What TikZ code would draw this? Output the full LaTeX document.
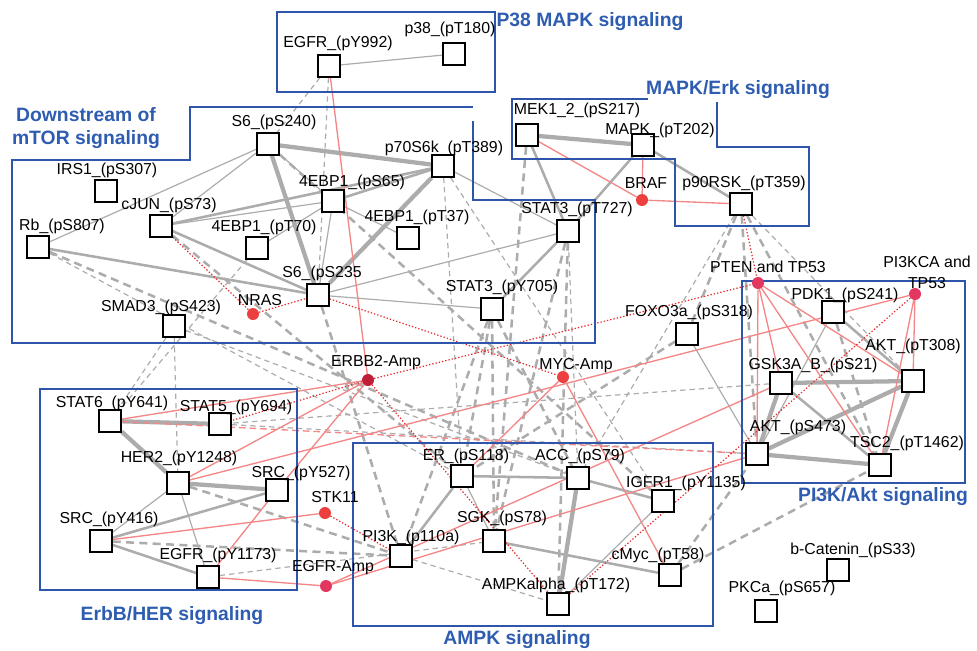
\documentclass[tikz,border=0pt]{standalone}
\usepackage{fontspec}
\setmainfont{Liberation Sans}
\definecolor{boxblue}{RGB}{47,85,170}
\definecolor{titleblue}{RGB}{46,92,176}
\definecolor{edgegray}{RGB}{172,172,172}
\definecolor{linkred}{RGB}{243,134,134}
\definecolor{dotred}{RGB}{232,40,40}
\definecolor{hitred}{RGB}{236,64,64}
\definecolor{amppink}{RGB}{226,56,96}
\definecolor{erbbred}{RGB}{190,30,55}
\usetikzlibrary{backgrounds}

\begin{document}
\begin{tikzpicture}[
            x=0.75pt, y=-0.75pt,
            prot/.style={rectangle, draw=black, fill=white, line width=1.1pt,
                         minimum size=16.5pt, inner sep=0pt},
            hit/.style={circle, fill=hitred, minimum size=9pt, inner sep=0pt},
            lbl/.style={font=\fontsize{11.9}{15.5}\selectfont, inner sep=0pt, align=center},
            grp/.style={draw=boxblue, line width=1.1pt},
            grptitle/.style={font=\fontsize{14.5}{17.5}\selectfont\bfseries, text=titleblue,
                             inner sep=0pt, align=center},
            ge/.style={draw=edgegray, line width=0.9pt},
            gm/.style={draw=edgegray, line width=1.9pt},
            gt/.style={draw=edgegray, line width=3.2pt},
            gdt/.style={draw=edgegray, line width=0.9pt, dash pattern=on 4pt off 3pt},
            gdm/.style={draw=edgegray, line width=1.9pt, dash pattern=on 6pt off 4pt},
            rs/.style={draw=linkred, line width=1pt},
            rdash/.style={draw=linkred, line width=1pt, dash pattern=on 5pt off 3pt},
            rd/.style={draw=dotred, line width=0.9pt, dash pattern=on 1pt off 1.5pt}
        ]
        \useasboundingbox (0,0) rectangle (977,650);

        % signaling groups
        \draw[grp] (277,12) rectangle (495,92);
        \draw[grp] (473,121) -- (473,200) -- (595,200) -- (595,343) -- (12,343) -- (12,160)
                   -- (190,160) -- (190,107) -- (473,107);
        \draw[grp] (648,99) -- (512,99) -- (512,159) -- (675,159) -- (675,226) -- (809,226)
                   -- (809,147) -- (717,147) -- (717,102);
        \draw[grp] (40,389) rectangle (297,590);
        \draw[grp] (353,443) rectangle (713,626);
        \draw[grp] (742,281) rectangle (965,483);

        \node[grptitle] (t-p38) at (590,22) {P38 MAPK signaling};
        \node[grptitle] (t-erk) at (738,90) {MAPK/Erk signaling};
        \node[grptitle] (t-mtor) at (86,128) {Downstream of\\mTOR signaling};
        \node[grptitle] (t-erbb) at (172,616) {ErbB/HER signaling};
        \node[grptitle] (t-ampk) at (517,640) {AMPK signaling};
        \node[grptitle] (t-akt) at (883,497) {PI3K/Akt signaling};

        % proteins
        \node[prot] (egfrY992) at (329,66) {};
        \node[lbl] (egfrY992-t) at (338,43) {EGFR\_(pY992)};
        \node[prot] (p38) at (454,54) {};
        \node[lbl] (p38-t) at (450,29) {p38\_(pT180)};
        \node[prot] (s6S240) at (268,144) {};
        \node[lbl] (s6S240-t) at (274,122) {S6\_(pS240)};
        \node[prot] (p70) at (443,166) {};
        \node[lbl] (p70-t) at (444,148) {p70S6k\_(pT389)};
        \node[prot] (ebpS65) at (333,201) {};
        \node[lbl] (ebpS65-t) at (352,182) {4EBP1\_(pS65)};
        \node[prot] (ebpT37) at (408,238) {};
        \node[lbl] (ebpT37-t) at (417,217) {4EBP1\_(pT37)};
        \node[prot] (ebpT70) at (257,248) {};
        \node[lbl] (ebpT70-t) at (264,227) {4EBP1\_(pT70)};
        \node[prot] (cjun) at (161,226) {};
        \node[lbl] (cjun-t) at (169,205) {cJUN\_(pS73)};
        \node[prot] (irs1) at (106,191) {};
        \node[lbl] (irs1-t) at (107,170) {IRS1\_(pS307)};
        \node[prot] (rb) at (38,247) {};
        \node[lbl] (rb-t) at (62,226) {Rb\_(pS807)};
        \node[prot] (smad3) at (174,326) {};
        \node[lbl] (smad3-t) at (161,307) {SMAD3\_(pS423)};
        \node[prot] (s6S235) at (318,295) {};
        \node[lbl] (s6S235-t) at (322,273) {S6\_(pS235};
        \node[prot] (stat3Y705) at (492,309) {};
        \node[lbl] (stat3Y705-t) at (502,287) {STAT3\_(pY705)};
        \node[prot] (stat3T727) at (568,231) {};
        \node[lbl] (stat3T727-t) at (577,209) {STAT3\_(pT727)};
        \node[prot] (mek) at (527,135) {};
        \node[lbl] (mek-t) at (577,110) {MEK1\_2\_(pS217)};
        \node[prot] (mapk) at (643,145) {};
        \node[lbl] (mapk-t) at (660,130) {MAPK\_(pT202)};
        \node[prot] (p90rsk) at (741,204) {};
        \node[lbl] (p90rsk-t) at (744,183) {p90RSK\_(pT359)};
        \node[prot] (pdk1) at (833,312) {};
        \node[lbl] (pdk1-t) at (845,295) {PDK1\_(pS241)};
        \node[prot] (foxo3a) at (687,334) {};
        \node[lbl] (foxo3a-t) at (689,312) {FOXO3a\_(pS318)};
        \node[prot] (aktT308) at (913,381) {};
        \node[lbl] (aktT308-t) at (913,346) {AKT\_(pT308)};
        \node[prot] (gsk) at (781,383) {};
        \node[lbl] (gsk-t) at (813,365) {GSK3A\_B\_(pS21)};
        \node[prot] (aktS473) at (757,454) {};
        \node[lbl] (aktS473-t) at (798,427) {AKT\_(pS473)};
        \node[prot] (tsc2) at (880,465) {};
        \node[lbl] (tsc2-t) at (907,443) {TSC2\_(pT1462)};
        \node[prot] (stat6) at (110,421) {};
        \node[lbl] (stat6-t) at (112,403) {STAT6\_(pY641)};
        \node[prot] (stat5) at (220,424) {};
        \node[lbl] (stat5-t) at (236,407) {STAT5\_(pY694)};
        \node[prot] (her2) at (178,483) {};
        \node[lbl] (her2-t) at (179,458) {HER2\_(pY1248)};
        \node[prot] (srcY527) at (277,490) {};
        \node[lbl] (srcY527-t) at (301,473) {SRC\_(pY527)};
        \node[prot] (srcY416) at (101,541) {};
        \node[lbl] (srcY416-t) at (109,519) {SRC\_(pY416)};
        \node[prot] (egfrY1173) at (208,577) {};
        \node[lbl] (egfrY1173-t) at (218,555) {EGFR\_(pY1173)};
        \node[prot] (er) at (462,476) {};
        \node[lbl] (er-t) at (466,456) {ER\_(pS118)};
        \node[prot] (acc) at (578,478) {};
        \node[lbl] (acc-t) at (580,456) {ACC\_(pS79)};
        \node[prot] (sgk) at (494,541) {};
        \node[lbl] (sgk-t) at (502,518) {SGK\_(pS78)};
        \node[prot] (pi3k) at (401,556) {};
        \node[lbl] (pi3k-t) at (411,537) {PI3K\_(p110a)};
        \node[prot] (ampk) at (558,604) {};
        \node[lbl] (ampk-t) at (556,585) {AMPKalpha\_(pT172)};
        \node[prot] (igfr1) at (663,501) {};
        \node[lbl] (igfr1-t) at (686,483) {IGFR1\_(pY1135)};
        \node[prot] (cmyc) at (670,575) {};
        \node[lbl] (cmyc-t) at (658,555) {cMyc\_(pT58)};
        \node[prot] (bcat) at (838,570) {};
        \node[lbl] (bcat-t) at (853,550) {b-Catenin\_(pS33)};
        \node[prot] (pkca) at (766,611) {};
        \node[lbl] (pkca-t) at (782,588) {PKCa\_(pS657)};

        % alterations
        \node[hit] (nras) at (253,314) {};
        \node[lbl] (nras-t) at (260,300) {NRAS};
        \node[hit] (braf) at (642,200) {};
        \node[lbl] (braf-t) at (646,183) {BRAF};
        \node[hit] (stk11) at (325,513) {};
        \node[lbl] (stk11-t) at (335,497) {STK11};
        \node[hit] (myc) at (563,377) {};
        \node[lbl] (myc-t) at (576,366) {MYC-Amp};
        \node[hit, fill=erbbred] (erbb2) at (368,380) {};
        \node[lbl] (erbb2-t) at (376,363) {ERBB2-Amp};
        \node[hit, fill=amppink] (egframp) at (326,586) {};
        \node[lbl] (egframp-t) at (333,568) {EGFR-Amp};
        \node[hit, fill=amppink] (pten) at (758,283) {};
        \node[lbl] (pten-t) at (768,267) {PTEN and TP53};
        \node[hit, fill=amppink] (pi3kca) at (915,294) {};
        \node[lbl] (pi3kca-t) at (927,272) {PI3KCA and\\TP53};

        \begin{scope}[on background layer]
        % gray thin
        \draw[ge] (egfrY992) -- (p38);
        \draw[ge] (s6S240) -- (ebpS65);
        \draw[ge] (s6S240) -- (cjun);
        \draw[ge] (s6S240) -- (rb);
        \draw[ge] (cjun) -- (ebpS65);
        \draw[ge] (ebpT70) -- (ebpS65);
        \draw[ge] (ebpS65) -- (ebpT37);
        \draw[ge] (ebpS65) -- (s6S235);
        \draw[ge] (p70) -- (stat3T727);
        \draw[ge] (s6S235) -- (stat3T727);
        \draw[ge] (s6S235) -- (stat3Y705);
        \draw[ge] (her2) -- (srcY416);
        \draw[ge] (her2) -- (egfrY1173);
        \draw[ge] (er) -- (sgk);
        \draw[ge] (igfr1) -- (ampk);
        \draw[ge] (foxo3a) -- (aktS473);
        \draw[ge] (pdk1) -- (aktS473);
        % gray medium
        \draw[gm] (cjun) -- (p70);
        \draw[gm] (cjun) -- (s6S235);
        \draw[gm] (rb) -- (s6S235);
        \draw[gm] (ebpS65) -- (p70);
        \draw[gm] (stat3T727) -- (stat3Y705);
        \draw[gm] (mek) -- (stat3T727);
        \draw[gm] (mapk) -- (stat3T727);
        \draw[gm] (mapk) -- (p90rsk);
        \draw[gm] (srcY416) -- (srcY527);
        \draw[gm] (srcY416) -- (egfrY1173);
        \draw[gm] (pi3k) -- (er);
        \draw[gm] (er) -- (acc);
        \draw[gm] (acc) -- (igfr1);
        \draw[gm] (sgk) -- (cmyc);
        \draw[gm] (pdk1) -- (aktT308);
        \draw[gm] (gsk) -- (tsc2);
        % gray thick
        \draw[gt] (s6S240) -- (p70);
        \draw[gt] (s6S240) -- (s6S235);
        \draw[gt] (p70) -- (s6S235);
        \draw[gt] (mek) -- (mapk);
        \draw[gt] (stat6) -- (stat5);
        \draw[gt] (stat6) -- (her2);
        \draw[gt] (her2) -- (srcY527);
        \draw[gt] (acc) -- (ampk);
        \draw[gt] (gsk) -- (aktT308);
        \draw[gt] (gsk) -- (aktS473);
        \draw[gt] (aktS473) -- (aktT308);
        \draw[gt] (aktS473) -- (tsc2);
        \draw[gt] (aktT308) -- (tsc2);
        % gray dashed thin
        \draw[gdt] (egfrY992) -- (s6S240);
        \draw[gdt] (egfrY992) -- (s6S235);
        \draw[gdt] (rb) -- (er);
        \draw[gdt] (smad3) -- (acc);
        \draw[gdt] (smad3) -- (her2);
        \draw[gdt] (smad3) -- (stat6);
        \draw[gdt] (ebpT70) -- (stat6);
        \draw[gdt] (gsk) -- (stat5);
        \draw[gdt] (stat5) -- (aktS473);
        \draw[gdt] (egfrY1173) -- (sgk);
        \draw[gdt] (pi3k) -- (ampk);
        \draw[gdt] (stat3T727) -- (acc);
        \draw[gdt] (p70) -- (er);
        \draw[gdt] (p70) -- (igfr1);
        \draw[gdt] (p90rsk) -- (aktT308);
        \draw[gdt] (p90rsk) -- (acc);
        % gray dashed medium
        \draw[gdm] (s6S240) -- (igfr1);
        \draw[gdm] (s6S235) -- (pi3k);
        \draw[gdm] (cjun) -- (er);
        \draw[gdm] (rb) -- (acc);
        \draw[gdm] (her2) -- (pi3k);
        \draw[gdm] (srcY416) -- (pi3k);
        \draw[gdm] (mek) -- (sgk);
        \draw[gdm] (stat3T727) -- (sgk);
        \draw[gdm] (stat3T727) -- (ampk);
        \draw[gdm] (stat3Y705) -- (er);
        \draw[gdm] (stat3Y705) -- (sgk);
        \draw[gdm] (stat3Y705) -- (acc);
        \draw[gdm] (stat3Y705) -- (pi3k);
        \draw[gdm] (foxo3a) -- (er);
        \draw[gdm] (p90rsk) -- (foxo3a);
        \draw[gdm] (p90rsk) -- (aktS473);
        \draw[gdm] (p90rsk) -- (tsc2);
        \draw[gdm] (pdk1) -- (tsc2);
        \draw[gdm] (cmyc) -- (tsc2);
        \draw[gdm] (cmyc) -- (aktS473);
        % red links
        \draw[rs] (egfrY992) -- (erbb2);
        \draw[rs] (mek) -- (braf);
        \draw[rs] (mapk) -- (braf);
        \draw[rs] (braf) -- (p90rsk);
        \draw[rs] (pten) -- (gsk);
        \draw[rs] (pten) -- (aktS473);
        \draw[rs] (pten) -- (tsc2);
        \draw[rs] (pten) -- (aktT308);
        \draw[rs] (pi3kca) -- (aktT308);
        \draw[rs] (pi3kca) -- (tsc2);
        \draw[rs] (pi3kca) -- (her2);
        \draw[rs] (egframp) -- (gsk);
        \draw[rs] (egframp) -- (aktS473);
        \draw[rs] (egframp) -- (egfrY1173);
        \draw[rs] (erbb2) -- (stat6);
        \draw[rs] (erbb2) -- (her2);
        \draw[rs] (erbb2) -- (srcY527);
        \draw[rs] (srcY527) -- (egfrY1173);
        \draw[rs] (srcY416) -- (stk11);
        \draw[rs] (myc) -- (er);
        \draw[rs] (myc) -- (cmyc);
        \draw[rdash] (stat6) -- (aktS473);
        % red dotted
        \draw[rd] (cjun) -- (nras);
        \draw[rd] (nras) -- (s6S235);
        \draw[rd] (s6S235) -- (myc);
        \draw[rd] (erbb2) -- (pten);
        \draw[rd] (erbb2) -- (stat5);
        \draw[rd] (erbb2) -- (ampk);
        \draw[rd] (stk11) -- (pi3k);
        \draw[rd] (p90rsk) -- (pten);
        \draw[rd] (pi3kca) -- (ampk);
        \end{scope}

        \end{tikzpicture}
\end{document}
